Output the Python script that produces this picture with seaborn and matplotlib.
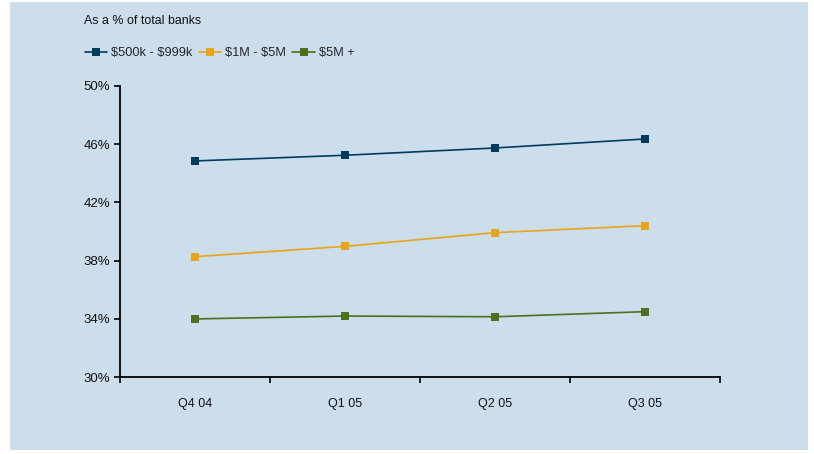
import matplotlib
matplotlib.use("Agg")
import matplotlib.pyplot as plt
import matplotlib.patches as mpatches
from matplotlib.ticker import FixedLocator, FuncFormatter
import numpy as np
import pandas as pd
import seaborn as sns

quarters = ["Q4 04", "Q1 05", "Q2 05", "Q3 05"]
series_names = ["$500k - $999k", "$1M - $5M", "$5M +"]
share_500k_999k = [44.85, 45.24, 45.74, 46.36]
share_1m_5m = [38.27, 38.98, 39.92, 40.40]
share_5m_plus = [33.99, 34.19, 34.14, 34.49]
y_ticks = [30, 34, 38, 42, 46, 50]

colors = ["#003B5C", "#E8A51C", "#4B7120"]
bg = "#CCDDEC"

df = pd.DataFrame({
    "quarter": quarters * 3,
    "pos": list(range(len(quarters))) * 3,
    "share": share_500k_999k + share_1m_5m + share_5m_plus,
    "series": [series_names[0]] * 4 + [series_names[1]] * 4 + [series_names[2]] * 4,
})

sns.set_theme(style="white")
plt.rcParams["font.family"] = ["Liberation Sans", "DejaVu Sans"]
plt.rcParams["text.parse_math"] = False

fig = plt.figure(figsize=(8.14, 4.54), dpi=100)
fig.patch.set_facecolor("white")
panel = mpatches.Rectangle((10 / 814, 4 / 454), 798 / 814, 448 / 454,
                           transform=fig.transFigure, facecolor=bg,
                           edgecolor="none", zorder=-10)
fig.patches.append(panel)

ax = fig.add_axes([120 / 814, 1 - 377 / 454, 600 / 814, 291 / 454])
ax.set_zorder(5)
ax.set_facecolor("none")

sns.lineplot(data=df, x="pos", y="share", hue="series", hue_order=series_names,
             palette=colors, marker="s", markersize=6.3, markeredgewidth=0,
             linewidth=1.2, ax=ax, legend=True)

ax.set_xlim(-0.5, 3.5)
ax.set_ylim(30, 50)
ax.set_xlabel("")
ax.set_ylabel("")

ax.xaxis.set_major_locator(FixedLocator([-0.5, 0.5, 1.5, 2.5, 3.5]))
ax.xaxis.set_major_formatter(FuncFormatter(lambda v, p: ""))
ax.xaxis.set_minor_locator(FixedLocator(range(len(quarters))))
ax.set_xticklabels(quarters, minor=True)
ax.tick_params(axis="x", which="major", direction="out", length=4, width=1.2,
               color="black", bottom=True)
ax.tick_params(axis="x", which="minor", length=0, pad=15, labelsize=9, labelcolor="#111111")

ax.set_yticks(y_ticks)
ax.set_yticklabels([f"{t}%" for t in y_ticks])
ax.tick_params(axis="y", direction="out", length=4, width=1.2, color="black",
               left=True, labelsize=9.5, labelcolor="#111111", pad=3)

for s in ["top", "right"]:
    ax.spines[s].set_visible(False)
for s in ["left", "bottom"]:
    ax.spines[s].set_color("black")
    ax.spines[s].set_linewidth(1.3)

handles, labels = ax.get_legend_handles_labels()
ax.legend(handles, labels, loc="center left", bbox_to_anchor=(85 / 814, 1 - 53 / 454),
          bbox_transform=fig.transFigure, ncol=3, frameon=False, fontsize=9.2,
          handlelength=1.75, handletextpad=0.3, columnspacing=0.5, borderaxespad=0,
          borderpad=0)

fig.text(84 / 814, 1 - 21 / 454, "As a % of total banks", fontsize=8.9,
         color="#111111", va="center", ha="left")

fig.savefig("out.png", dpi=100, facecolor=fig.get_facecolor())
